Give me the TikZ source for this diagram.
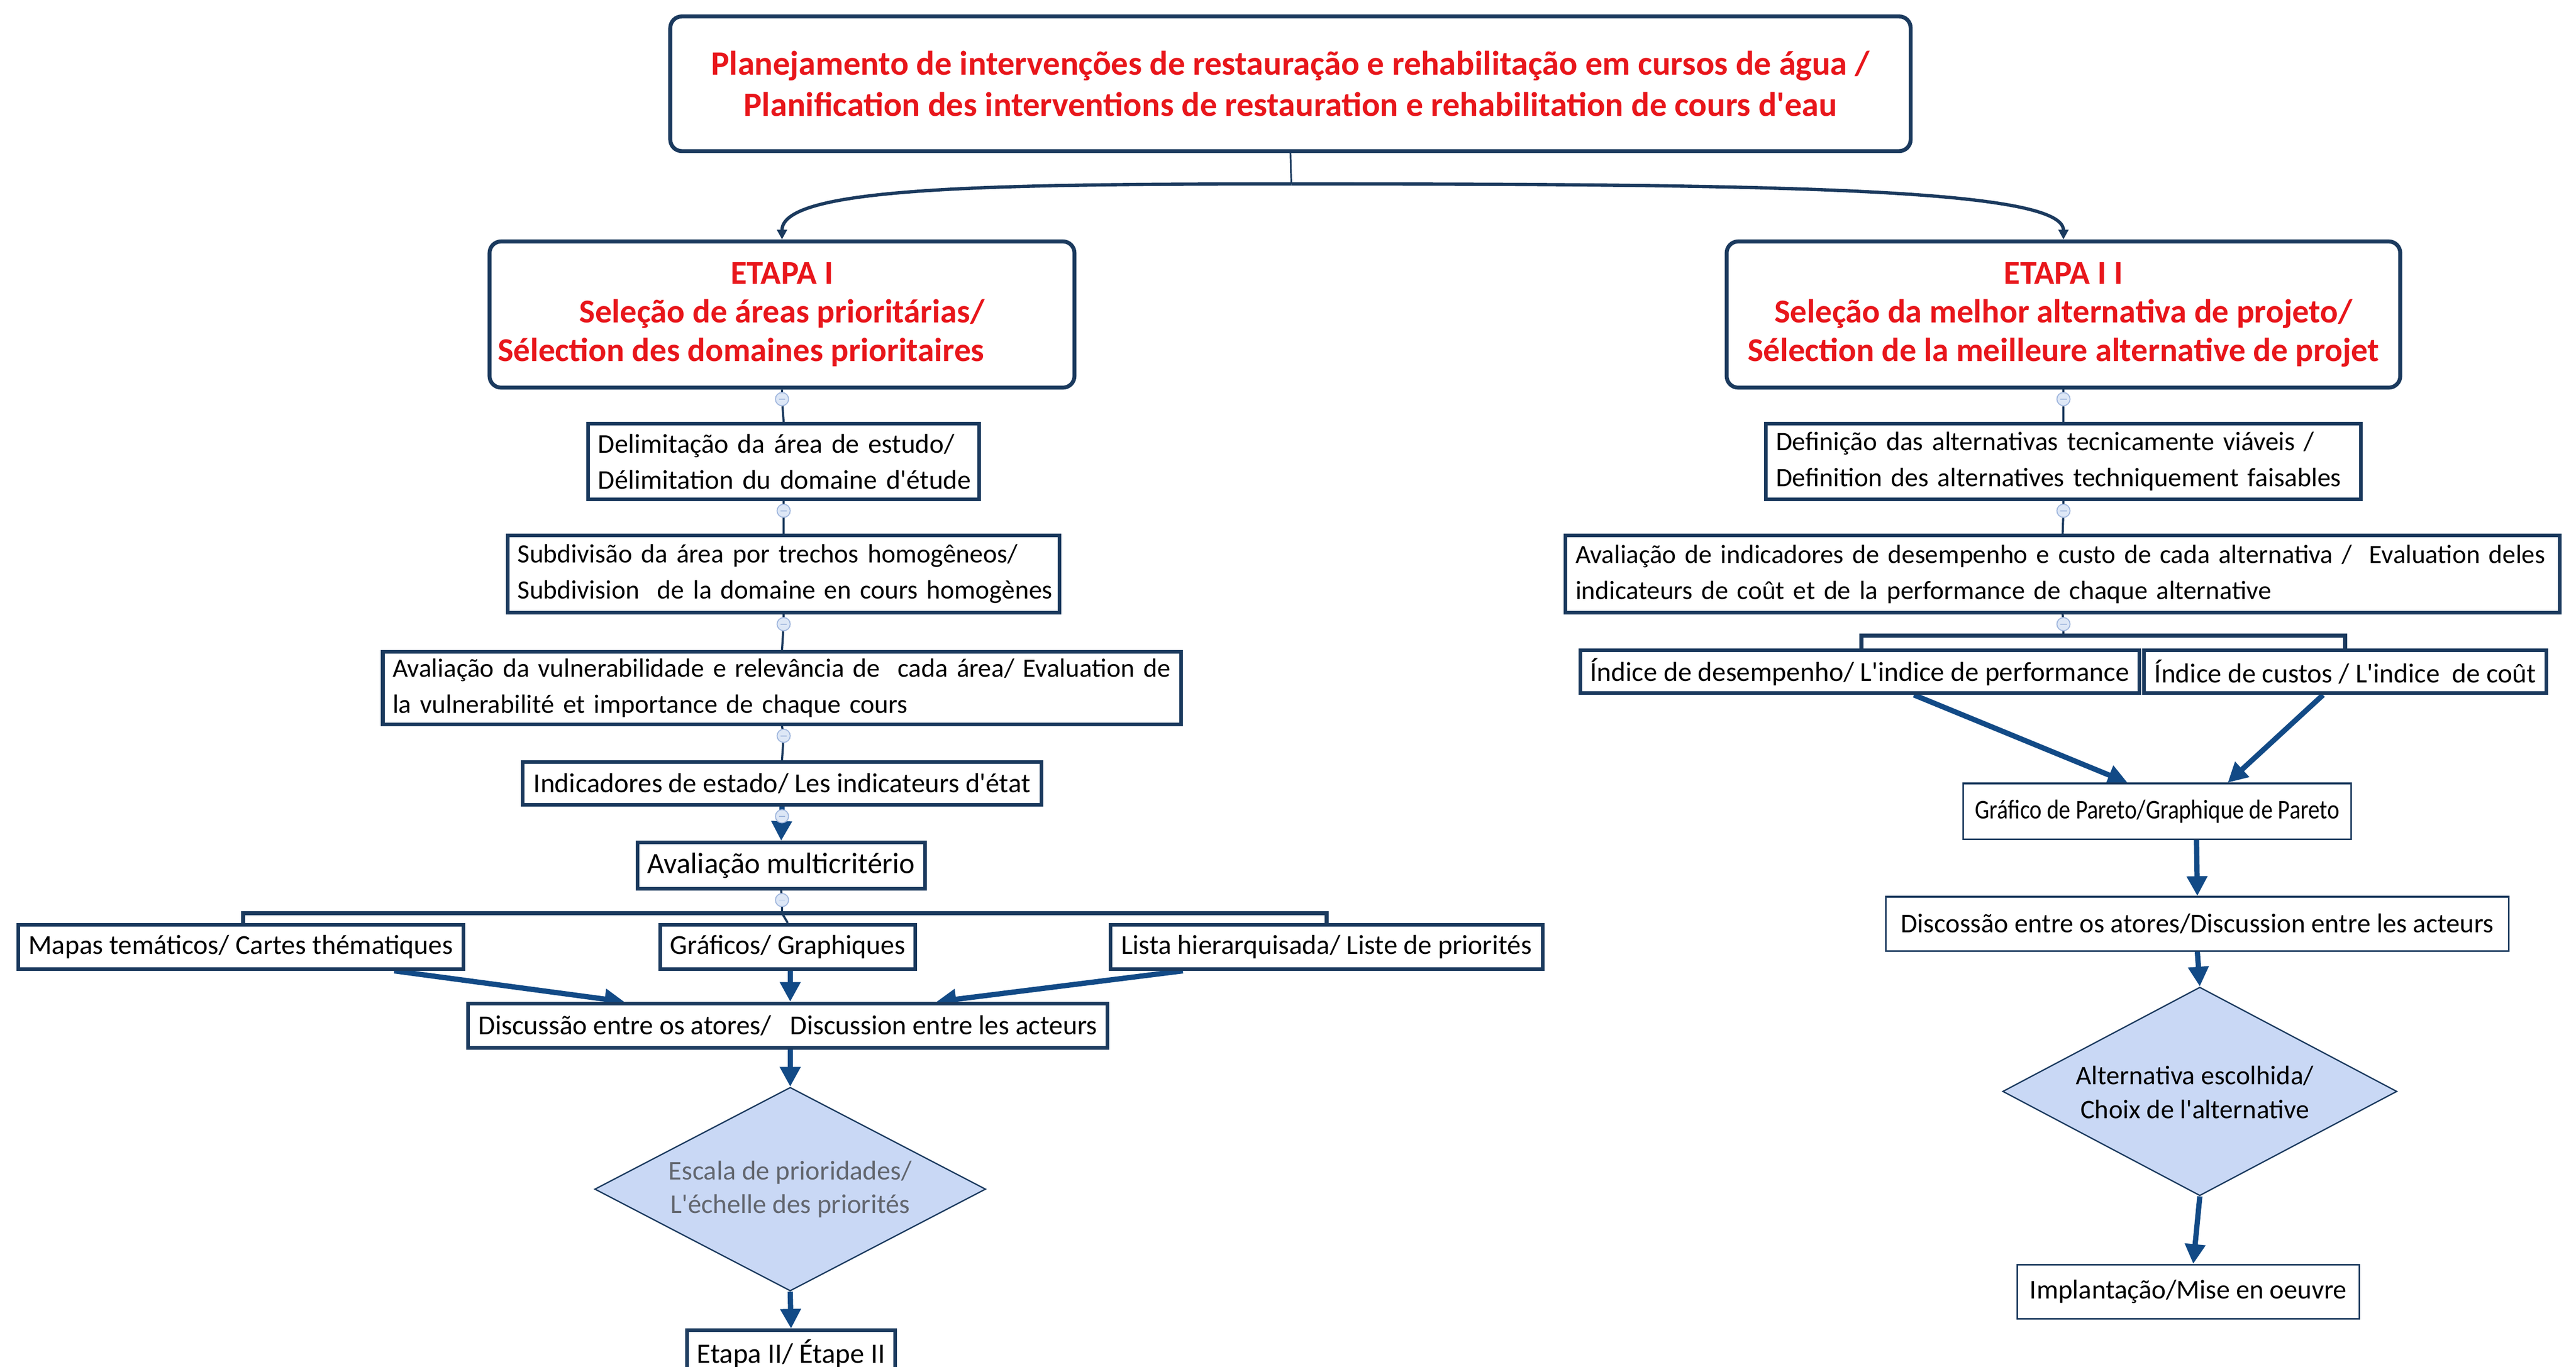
\documentclass[tikz,border=0pt]{standalone}
\usepackage{fontspec}
\usepackage{graphicx}
\setmainfont{Carlito}
\usetikzlibrary{shapes.geometric,arrows.meta}
\pgfdeclarelayer{bg}
\pgfsetlayers{bg,main}
\definecolor{navy}{HTML}{1B3A5E}
\definecolor{arrowblue}{HTML}{124A86}
\definecolor{titlered}{HTML}{E8161B}
\definecolor{diafill}{HTML}{C9D8F5}
\definecolor{circfill}{HTML}{DDE7F6}
\definecolor{circdraw}{HTML}{9FB6DD}
\definecolor{diatext}{HTML}{62666E}
\newcommand{\ap}{\textquotesingle}
\newcommand{\lline}[1]{\hbox to \hsize{#1\hss}}
\begin{document}
\begin{tikzpicture}[x=1pt,y=-1pt,
  every node/.style={inner sep=0pt},
  titlebox/.style={draw=navy,line width=2.4pt,rounded corners=7pt,fill=white,text=titlered,align=center,font=\bfseries\fontsize{20.8}{25}\selectfont},
  etapabox/.style={titlebox,font=\bfseries\fontsize{20.3}{23.5}\selectfont},
  stepbox/.style={draw=navy,line width=2.2pt,fill=white,inner xsep=6pt,align=left,font=\fontsize{16.2}{22}\selectfont},
  onebox/.style={stepbox,align=center,font=\fontsize{16.7}{22}\selectfont},
  thinbox/.style={draw=navy,line width=1pt,fill=white,align=center,font=\fontsize{16.5}{21}\selectfont},
  decision/.style={diamond,draw=navy,line width=0.8pt,fill=diafill},
  knob/.style={circle,draw=circdraw,fill=circfill,line width=0.6pt,minimum size=8pt,
    path picture={\draw[circdraw,line width=0.6pt] ([xshift=-2pt]path picture bounding box.center) -- ([xshift=2pt]path picture bounding box.center);}},
  link/.style={draw=navy,line width=1.3pt},
  barlink/.style={draw=navy,line width=2.4pt},
  flow/.style={draw=arrowblue,line width=3.2pt,-{Triangle[length=12pt,width=12pt]}},
  split/.style={draw=navy,line width=2pt,-{Triangle[length=6pt,width=6pt]}}
]
\useasboundingbox (0,0) rectangle (1568,832);
\begin{pgfonlayer}{bg}
\fill[white] (0,0) rectangle (1568,832);
\end{pgfonlayer}

% top
\node[titlebox,minimum width=755pt,minimum height=82pt] (top) at (785.5,51)
  {Planejamento de intervenções de restauração e rehabilitação em cursos de água /\\Planification des interventions de restauration e rehabilitation de cours d\ap eau};
\coordinate (tj) at (786,112);

% stages
\node[etapabox,minimum width=356pt,minimum height=89pt] (E1) at (476,191.5)
  {ETAPA I\\Seleção de áreas prioritárias/\\Sélection des domaines prioritaires\hspace*{50pt}};
\node[etapabox,minimum width=410pt,minimum height=89pt] (E2) at (1256,191.5)
  {ETAPA I I\\Seleção da melhor alternativa de projeto/\\Sélection de la meilleure alternative de projet};

% left column
\node[stepbox,text width=226pt,minimum height=46pt,font=\fontsize{16.5}{22}\selectfont] (d1) at (477,281)
  {\lline{Delimitação da área de estudo/}\\\lline{Délimitation du domaine d\ap étude}};
\node[stepbox,text width=324pt,minimum height=47pt,font=\fontsize{16.1}{22}\selectfont] (d2) at (477,349.5)
  {\lline{Subdivisão da área por trechos homogêneos/}\\\lline{Subdivision \ de la domaine en cours homogènes}};
\node[stepbox,text width=474pt,minimum height=44pt,font=\fontsize{16.1}{22}\selectfont] (d3) at (476,419)
  {\lline{Avaliação da vulnerabilidade e relevância de \ cada área/ Evaluation de}\\\lline{la vulnerabilité et importance de chaque cours}};
\node[onebox,minimum width=316pt,minimum height=26pt] (d4) at (476,477)
  {Indicadores de estado/ Les indicateurs d\ap état};
\node[onebox,minimum width=175pt,minimum height=28pt,font=\fontsize{17.9}{22}\selectfont] (d5) at (475.5,527)
  {Avaliação multicritério};
\node[onebox,minimum width=271pt,minimum height=27pt] (m1) at (146.5,576.5)
  {Mapas temáticos/ Cartes thématiques};
\node[onebox,minimum width=155pt,minimum height=27pt] (m2) at (479.5,576.5)
  {Gráficos/ Graphiques};
\node[onebox,minimum width=263pt,minimum height=27pt] (m3) at (807.5,576.5)
  {Lista hierarquisada/ Liste de priorités};
\node[onebox,minimum width=389pt,minimum height=27pt] (disc) at (479.5,624.5)
  {Discussão entre os atores/ \ \ Discussion entre les acteurs};
\node[decision,minimum width=238pt,minimum height=124pt] (dia1) at (481,724) {};
\node[text=diatext,align=center,font=\fontsize{16.5}{20.5}\selectfont] (dia1t) at (481,724)
  {Escala de prioridades/\\L\ap échelle des priorités};
\node[onebox,minimum width=123pt,minimum height=28pt,font=\fontsize{17.2}{22}\selectfont] (e2) at (481.5,824)
  {Etapa II/ Étape II};

% right column
\node[stepbox,text width=350pt,minimum height=46pt,font=\fontsize{16.2}{22}\selectfont] (r1) at (1256,281)
  {\lline{Definição das alternativas tecnicamente viáveis /}\\\lline{Definition des alternatives techniquement faisables}};
\node[stepbox,text width=593pt,minimum height=47pt,font=\fontsize{16}{22}\selectfont] (r2) at (1255.5,349.5)
  {\lline{Avaliação de indicadores de desempenho e custo de cada alternativa / \ Evaluation deles}\\\lline{indicateurs de coût et de la performance de chaque alternative}};
\node[onebox,minimum width=334pt,minimum height=26pt] (r3a) at (1132,409)
  {Índice de desempenho/ L\ap indice de performance};
\node[onebox,minimum width=245pt,minimum height=26pt] (r3b) at (1427.5,409)
  {Índice de custos / L\ap indice \ de coût};
\node[thinbox,minimum width=236pt,minimum height=34pt] (par) at (1313,494)
  {\scalebox{0.85}[1]{Gráfico de Pareto/Graphique de Pareto}};
\node[thinbox,minimum width=379pt,minimum height=33pt] (dis2) at (1337.5,562.5)
  {Discossão entre os atores/Discussion entre les acteurs};
\node[decision,minimum width=240pt,minimum height=127pt] (dia2) at (1339,664.5) {};
\node[align=center,font=\fontsize{16.3}{20.5}\selectfont] (dia2t) at (1336,665)
  {Alternativa escolhida/\\Choix de l\ap alternative};
\node[thinbox,minimum width=208pt,minimum height=33pt] (imp) at (1332,786.5)
  {Implantação/Mise en oeuvre};

% knobs
\node[knob] (k1) at (476,243) {};
\node[knob] (k2) at (477,311) {};
\node[knob] (k3) at (477,380) {};
\node[knob] (k4) at (477,448) {};
\node[knob] (k5) at (476,497) {};
\node[knob] (k6) at (476,548) {};
\node[knob] (q1) at (1256,243) {};
\node[knob] (q2) at (1256,311) {};
\node[knob] (q3) at (1256,380) {};
\coordinate (b1) at (476,556);
\coordinate (b2) at (1256,387);

\begin{pgfonlayer}{bg}
% top split
\draw[link,line width=1pt] (top.south) -- (tj);
\draw[split] (tj) .. controls (600,112) and (476,114) .. (E1.north);
\draw[split] (tj) .. controls (1068,112) and (1256,114) .. (E2.north);
% left chain
\draw[link] (E1.south) -- (k1) -- (d1.north);
\draw[link] (d1.south) -- (k2) -- (d2.north);
\draw[link] (d2.south) -- (k3) -- (d3.north);
\draw[link] (d3.south) -- (k4) -- (d4.north);
\draw[flow] (d4.south) -- (d5.north);
\draw[link] (d5.south) -- (k6) -- (b1);
\draw[barlink] (m1.north) ++(1.5,0) |- (b1) -| (m3.north);
\draw[link] (b1) -- (m2.north);
\draw[flow] ([xshift=93.5pt]m1.south) -- ([xshift=-99.5pt]disc.north);
\draw[flow] ([xshift=1.5pt]m2.south) -- ([xshift=1.5pt]disc.north);
\draw[flow] ([xshift=-87.5pt]m3.south) -- ([xshift=90.5pt]disc.north);
\draw[flow] ([xshift=1.5pt]disc.south) -- (dia1.north);
\draw[flow] (dia1.south) -- (e2.north);
% right chain
\draw[link] (E2.south) -- (q1) -- (r1.north);
\draw[link] (r1.south) -- (q2) -- (r2.north);
\draw[link] (r2.south) -- (q3) -- (b2);
\draw[barlink] (r3a.north) ++(1,0) |- (b2) -| (r3b.north);
\draw[flow] ([xshift=33pt]r3a.south) -- ([xshift=-18pt]par.north);
\draw[flow] ([xshift=-13.5pt]r3b.south) -- ([xshift=43pt]par.north);
\draw[flow] ([xshift=24pt]par.south) -- (dis2.north);
\draw[flow] (dis2.south) -- (dia2.north);
\draw[flow] (dia2.south) -- ([xshift=3pt]imp.north);
\end{pgfonlayer}
\end{tikzpicture}
\end{document}
